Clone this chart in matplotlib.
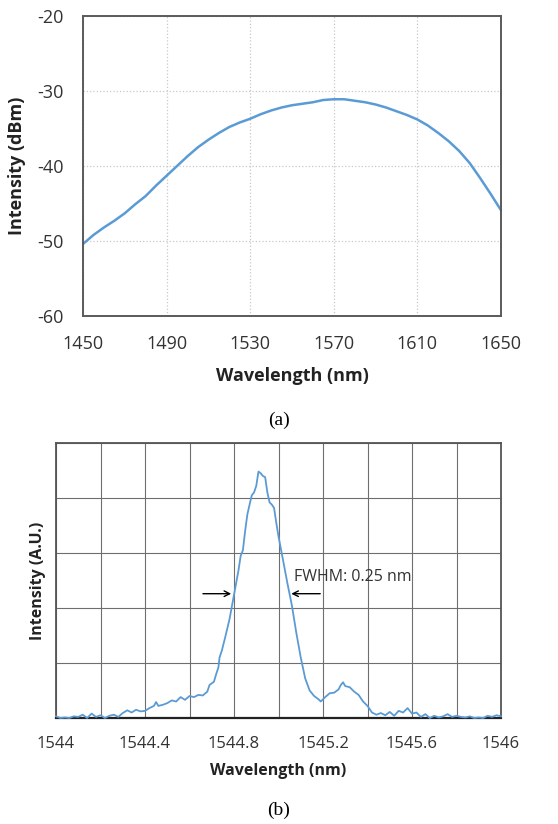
import numpy as np
import matplotlib.pyplot as plt

# (a) broadband source spectrum
wl_a = [1450, 1455, 1460, 1465, 1470, 1475, 1480, 1485, 1490, 1495,
        1500, 1505, 1510, 1515, 1520, 1525, 1530, 1535, 1540, 1545,
        1550, 1555, 1560, 1565, 1570, 1575, 1580, 1585, 1590, 1595,
        1600, 1605, 1610, 1615, 1620, 1625, 1630, 1635, 1640, 1645, 1650]
dbm_a = [-50.4, -49.2, -48.2, -47.3, -46.3, -45.1, -44.0, -42.6, -41.3, -40.0,
         -38.7, -37.5, -36.5, -35.6, -34.8, -34.2, -33.7, -33.1, -32.6, -32.2,
         -31.9, -31.7, -31.5, -31.2, -31.1, -31.1, -31.3, -31.5, -31.8, -32.2,
         -32.7, -33.2, -33.8, -34.6, -35.6, -36.7, -38.0, -39.6, -41.6, -43.7, -45.9]
xticks_a = [1450, 1490, 1530, 1570, 1610, 1650]
yticks_a = [-60, -50, -40, -30, -20]

# (b) narrow laser line (arbitrary units, grid units 0..5)
wl_b = [1544.00, 1544.02, 1544.04, 1544.06, 1544.08, 1544.10, 1544.12, 1544.14, 1544.16, 1544.18,
        1544.20, 1544.22, 1544.24, 1544.26, 1544.28, 1544.30, 1544.32, 1544.34, 1544.36, 1544.38,
        1544.40, 1544.42, 1544.44, 1544.45, 1544.46, 1544.48, 1544.50, 1544.52, 1544.54, 1544.56,
        1544.58, 1544.60, 1544.62, 1544.64, 1544.66, 1544.68, 1544.69, 1544.71, 1544.72, 1544.73,
        1544.735, 1544.745, 1544.76, 1544.78, 1544.80, 1544.82, 1544.83, 1544.84, 1544.85, 1544.86,
        1544.87, 1544.88, 1544.89, 1544.90, 1544.91, 1544.92, 1544.93, 1544.94, 1544.95, 1544.96,
        1544.97, 1544.98, 1544.99, 1545.00, 1545.02, 1545.04, 1545.06, 1545.08, 1545.10, 1545.12,
        1545.14, 1545.16, 1545.18, 1545.19, 1545.21, 1545.23, 1545.25, 1545.27, 1545.28, 1545.29,
        1545.30, 1545.32, 1545.34, 1545.36, 1545.38, 1545.40, 1545.42, 1545.44, 1545.46, 1545.48,
        1545.50, 1545.52, 1545.54, 1545.56, 1545.58, 1545.60, 1545.62, 1545.64, 1545.66, 1545.68,
        1545.70, 1545.72, 1545.74, 1545.76, 1545.78, 1545.80, 1545.82, 1545.84, 1545.86, 1545.88,
        1545.90, 1545.92, 1545.94, 1545.96, 1545.98, 1546.00]
int_b = [0.03, 0.0, 0.01, 0.0, 0.03, 0.02, 0.06, 0.0, 0.08, 0.02,
         0.05, 0.0, 0.04, 0.06, 0.02, 0.09, 0.14, 0.10, 0.15, 0.12,
         0.13, 0.18, 0.22, 0.29, 0.22, 0.24, 0.27, 0.32, 0.30, 0.38,
         0.33, 0.40, 0.38, 0.42, 0.41, 0.48, 0.60, 0.66, 0.80, 0.92,
         1.10, 1.22, 1.46, 1.80, 2.24, 2.68, 2.95, 3.05, 3.40, 3.70,
         3.88, 4.05, 4.10, 4.22, 4.48, 4.45, 4.40, 4.38, 4.10, 3.92,
         3.88, 3.82, 3.55, 3.30, 2.88, 2.45, 2.05, 1.55, 1.10, 0.72,
         0.50, 0.40, 0.34, 0.30, 0.38, 0.45, 0.46, 0.52, 0.60, 0.65,
         0.58, 0.56, 0.48, 0.42, 0.30, 0.22, 0.10, 0.06, 0.09, 0.05,
         0.11, 0.04, 0.13, 0.10, 0.18, 0.08, 0.10, 0.02, 0.07, 0.00,
         0.04, 0.01, 0.03, 0.07, 0.02, 0.04, 0.02, 0.01, 0.03, 0.0,
         0.01, 0.0, 0.04, 0.02, 0.05, 0.03]
xticks_b = [1544, 1544.4, 1544.8, 1545.2, 1545.6, 1546]
xtick_labels_b = ["1544", "1544.4", "1544.8", "1545.2", "1545.6", "1546"]
fwhm_left = 1544.80
fwhm_right = 1545.045
fwhm_level = 2.26

plt.rcParams['font.family'] = ['Open Sans', 'DejaVu Sans']
plt.rcParams['axes.unicode_minus'] = False
line_color = '#5B9BD5'
W, H = 558, 824

fig = plt.figure(figsize=(W / 100, H / 100), dpi=100)

# ---- panel (a)
ax1 = fig.add_axes([83 / W, 1 - 316 / H, 418 / W, 300 / H])
ax1.plot(wl_a, dbm_a, color=line_color, lw=1.8)
ax1.set_xlim(1450, 1650)
ax1.set_ylim(-60, -20)
ax1.set_xticks(xticks_a)
ax1.set_yticks(yticks_a)
ax1.grid(True, color='#c8c8c8', ls=':', lw=0.9)
ax1.tick_params(length=0, pad=14, labelsize=13, colors='#333333')
for s in ax1.spines.values():
    s.set_color('#5a5a5a')
    s.set_linewidth(1.4)
ax1.set_xlabel('Wavelength (nm)', fontsize=13, fontweight='bold', color='#222222', labelpad=10)
ax1.set_ylabel('Intensity (dBm)', fontsize=13, fontweight='bold', color='#222222', labelpad=8)
fig.text(0.5, 1 - 420 / H, '(a)', ha='center', va='center', fontsize=14,
         family=['Liberation Serif', 'DejaVu Serif'])

# ---- panel (b)
ax2 = fig.add_axes([56 / W, 1 - 718 / H, 445 / W, 275 / H])
ax2.plot(wl_b, int_b, color=line_color, lw=1.3, clip_on=False, zorder=3)
ax2.set_xlim(1544, 1546)
ax2.set_ylim(0, 5)
ax2.set_xticks(np.arange(1544, 1546.01, 0.2), minor=True)
ax2.set_xticks(xticks_b)
ax2.set_xticklabels(xtick_labels_b)
ax2.set_yticks(range(6))
ax2.set_yticklabels([])
ax2.grid(True, which='both', color='#6e6e6e', ls='-', lw=0.8)
ax2.tick_params(which='both', length=0)
ax2.tick_params(axis='x', pad=13, labelsize=12, colors='#333333')
for s in ax2.spines.values():
    s.set_color('#555555')
    s.set_linewidth(1.3)
ax2.spines['bottom'].set_color('#222222')
ax2.spines['bottom'].set_linewidth(1.6)
ax2.set_xlabel('Wavelength (nm)', fontsize=11.5, fontweight='bold', color='#222222', labelpad=8)
ax2.set_ylabel('Intensity (A.U.)', fontsize=11.5, fontweight='bold', color='#222222', labelpad=4)

ax2.annotate('', xy=(fwhm_left, fwhm_level), xytext=(1544.648, fwhm_level),
             arrowprops=dict(arrowstyle='->', color='black', lw=1.0))
ax2.annotate('', xy=(fwhm_right, fwhm_level), xytext=(1545.2, fwhm_level),
             arrowprops=dict(arrowstyle='->', color='black', lw=1.0))
ax2.text(1545.07, 2.56, 'FWHM: 0.25 nm', fontsize=11.5, color='#333333', va='center', ha='left')

fig.text(0.5, 1 - 810 / H, '(b)', ha='center', va='center', fontsize=14,
         family=['Liberation Serif', 'DejaVu Serif'])

fig.savefig('out.png', dpi=100)
